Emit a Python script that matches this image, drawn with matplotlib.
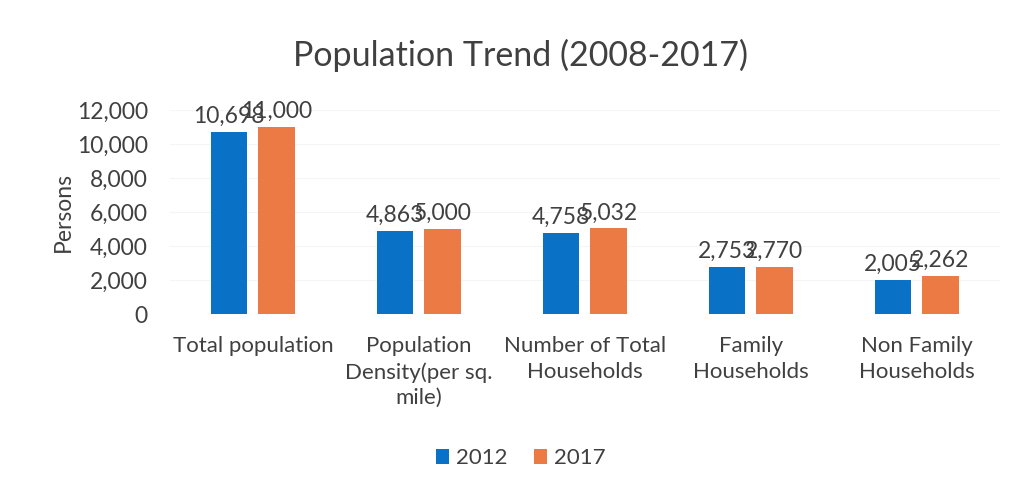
import numpy as np
import matplotlib.pyplot as plt
from matplotlib.ticker import FuncFormatter

plt.rcParams['font.family'] = ['Lato', 'DejaVu Sans']

categories = ['Total population', 'Population\nDensity(per sq.\nmile)',
              'Number of Total\nHouseholds', 'Family\nHouseholds',
              'Non Family\nHouseholds']
vals_2012 = [10698, 4863, 4758, 2753, 2005]
vals_2017 = [11000, 5000, 5032, 2770, 2262]
years = ['2012', '2017']

blue = '#0a72c6'
orange = '#ec7a45'
txt = '#404040'

fig = plt.figure(figsize=(10.21, 4.84), dpi=100)
ax = fig.add_axes([0.1665, 0.351, 0.8125, 0.422])

x = np.arange(len(categories))
w = 0.22
gap = 0.066
b1 = ax.bar(x - (w + gap) / 2, vals_2012, w, color=blue, label=years[0])
b2 = ax.bar(x + (w + gap) / 2, vals_2017, w, color=orange, label=years[1])

# value labels sit on top of each bar (they crowd each other, as in Excel)
for bars in (b1, b2):
    for r in bars:
        ax.text(r.get_x() + r.get_width() / 2, r.get_height() + 300,
                f'{int(r.get_height()):,}', ha='center', va='bottom',
                fontsize=16.5, color=txt, clip_on=False)

ax.set_xlim(-0.5, len(categories) - 0.5)
ax.set_ylim(0, 12000)
ax.set_yticks(range(0, 12001, 2000))
ax.yaxis.set_major_formatter(FuncFormatter(lambda v, p: f'{int(v):,}'))
ax.set_xticks(x)
ax.set_xticklabels(categories, fontsize=16, color=txt, linespacing=1.35)
ax.tick_params(axis='y', labelsize=16.5, labelcolor=txt, length=0, pad=16)
ax.tick_params(axis='x', length=0, pad=16)
ax.grid(axis='y', color='#f5f5f5', linewidth=0.8)
ax.set_axisbelow(True)
for s in ax.spines.values():
    s.set_visible(False)

ax.set_ylabel('Persons', fontsize=16.5, color=txt, labelpad=2)
fig.suptitle('Population Trend (2008-2017)', fontsize=24.5, color=txt,
             x=0.51, y=0.92)

fig.legend(loc='center', bbox_to_anchor=(0.51, 0.053), ncol=2, frameon=False,
           fontsize=16, handlelength=0.6, handleheight=0.6,
           handletextpad=0.3, columnspacing=1.2, labelcolor=txt)

fig.savefig('out.png', dpi=100)
